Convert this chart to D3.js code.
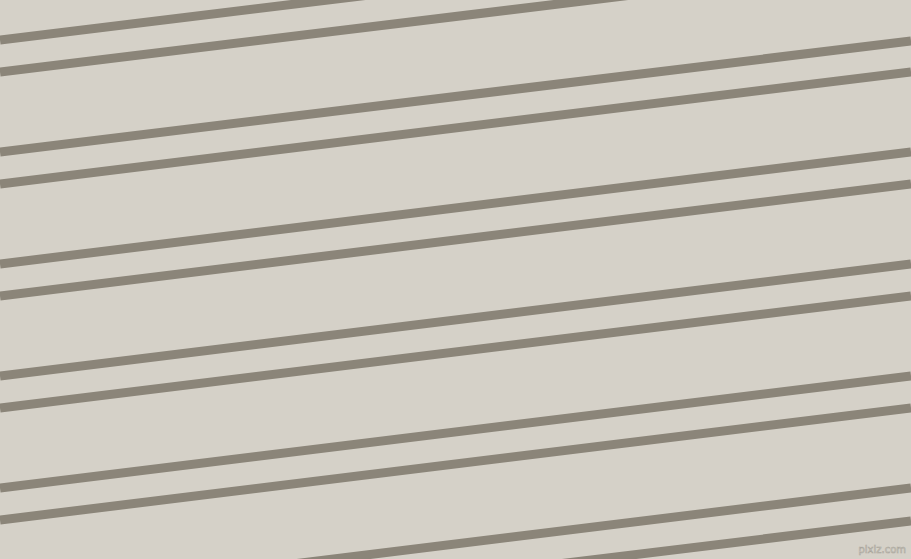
<!DOCTYPE html>
<html>
<head>
<meta charset="utf-8">
<script src="https://cdn.jsdelivr.net/npm/d3@7/dist/d3.min.js"></script>
<style>
  html, body { margin: 0; padding: 0; background: #d5d1c8; }
  svg { display: block; }
</style>
</head>
<body>
<div id="stripes"></div>
<script>
// stripe positions: y where each stripe meets left and right edge
var leftY = [-71, -39, 40, 72, 152, 184, 264, 296, 376, 408, 488, 520, 600, 632];
var rightY = [-182, -150, -71, -39, 41, 72, 152, 184, 264, 296, 376, 408, 488, 521];
var edges = [0, 1];

var width = 911, height = 559;

var svg = d3.select("#stripes")
    .append("svg")
    .attr("width", width)
    .attr("height", height);

svg.append("rect")
    .attr("width", width)
    .attr("height", height)
    .attr("fill", "#d5d1c8");

var x = d3.scaleLinear().domain([0, 1]).range([0, width]);
var y = d3.scaleLinear().domain([0, height]).range([0, height]);

var rows = leftY.map(function(d, i) { return [d, rightY[i]]; });

var line = d3.line()
    .x(function(d, i) { return x(edges[i]); })
    .y(function(d) { return y(d); });

svg.selectAll(".stripe")
    .data(rows)
    .enter()
    .append("path")
    .attr("class", "stripe")
    .attr("d", line)
    .attr("fill", "none")
    .attr("stroke", "#8b8579")
    .attr("stroke-width", 9);

// watermark
svg.append("text")
    .attr("x", width - 5)
    .attr("y", height - 6)
    .attr("text-anchor", "end")
    .style("font-family", "DejaVu Sans")
    .style("font-size", "10px")
    .attr("fill", "#e6e4dd")
    .attr("stroke", "#a9a59b")
    .attr("stroke-width", 0.6)
    .text("pixiz.com");
</script>
</body>
</html>
